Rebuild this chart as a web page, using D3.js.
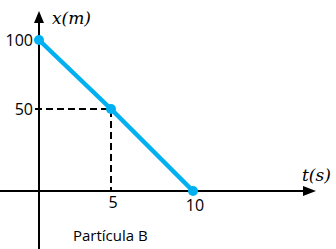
<!DOCTYPE html>
<html>
<head>
<meta charset="utf-8">
<script src="https://cdn.jsdelivr.net/npm/d3@7"></script>
<style>
  body { margin: 0; background: #fff; }
  svg { display: block; }
  text { font-family: "Open Sans", "Liberation Sans", sans-serif; fill: #000; }
  .math { font-family: "DejaVu Serif", serif; font-style: italic; }
</style>
</head>
<body>
<svg id="chart" width="336" height="249"></svg>
<script>
// data
const times = [0, 5, 10]
const positions = [100, 50, 0]
const xTicks = [5, 10]
const yTicks = [50, 100]
const xLabel = 't(s)'
const yLabel = 'x(m)'
const caption = 'Partícula B'

const w = 336, h = 249
const svg = d3.select('#chart')

// the hand-drawn original is not quite evenly spaced, so use polylinear scales
const x = d3.scaleLinear().domain([0, 5, 10]).range([39, 111, 193])
const y = d3.scaleLinear().domain([0, 50, 100]).range([191, 109, 40])

const blue = '#00b0f0'

// axes
svg.append('line')
  .attr('x1', 0).attr('x2', 308)
  .attr('y1', y(0)).attr('y2', y(0))
  .attr('stroke', '#000').attr('stroke-width', 2)
svg.append('path')
  .attr('d', `M316,${y(0)} L303,${y(0) - 5} L303,${y(0) + 5} Z`)
  .attr('fill', '#000')

svg.append('line')
  .attr('x1', x(0)).attr('x2', x(0))
  .attr('y1', h).attr('y2', 20)
  .attr('stroke', '#000').attr('stroke-width', 2)
svg.append('path')
  .attr('d', `M${x(0)},11 L${x(0) - 5},23 L${x(0) + 5},23 Z`)
  .attr('fill', '#000')

// dashed guides to the middle point
const mid = 1
svg.append('path')
  .attr('d', `M${x(0) - 4},${y(positions[mid])} H${x(times[mid])} V${y(0)}`)
  .attr('fill', 'none')
  .attr('stroke', '#000')
  .attr('stroke-width', 2)
  .attr('stroke-dasharray', '7,4')

// tick labels
svg.selectAll('.ytick')
  .data(yTicks)
  .enter()
  .append('text')
    .attr('class', 'ytick')
    .attr('x', 33)
    .attr('y', d => y(d) + 6)
    .attr('text-anchor', 'end')
    .attr('font-size', 16)
    .text(d => d)

svg.selectAll('.xtick')
  .data(xTicks)
  .enter()
  .append('text')
    .attr('class', 'xtick')
    .attr('x', d => x(d) + 2)
    .attr('y', (d, i) => i ? 211 : 208)
    .attr('text-anchor', 'middle')
    .attr('font-size', 16)
    .text(d => d)

// axis titles
svg.append('text')
  .attr('class', 'math')
  .attr('x', 52).attr('y', 24)
  .attr('font-size', 17)
  .text(yLabel)

svg.append('text')
  .attr('class', 'math')
  .attr('x', 302).attr('y', 181)
  .attr('font-size', 17)
  .text(xLabel)

svg.append('text')
  .attr('x', 73).attr('y', 241)
  .attr('font-size', 15)
  .text(caption)

// data line and points
const pts = times.map((t, i) => [t, positions[i]])
const line = d3.line()
  .x(d => x(d[0]))
  .y(d => y(d[1]))

svg.append('path')
  .attr('d', line(pts))
  .attr('fill', 'none')
  .attr('stroke', blue)
  .attr('stroke-width', 4.5)

svg.selectAll('circle')
  .data(pts)
  .enter()
  .append('circle')
    .attr('cx', d => x(d[0]))
    .attr('cy', d => y(d[1]))
    .attr('r', 5)
    .attr('fill', blue)
</script>
</body>
</html>
